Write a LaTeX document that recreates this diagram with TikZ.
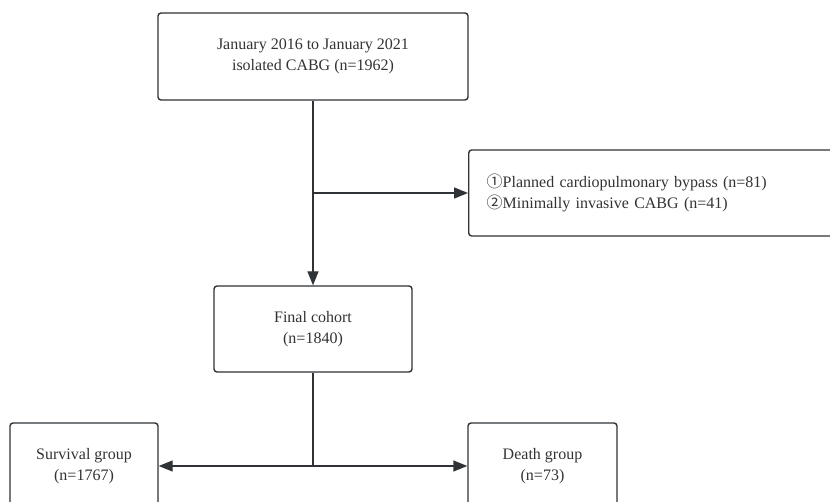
\documentclass[tikz,border=0pt]{standalone}
\usepackage{fontspec}
\setmainfont{Liberation Serif}
\newfontfamily\circfont{Noto Sans CJK SC}
\usetikzlibrary{arrows.meta,calc}
\definecolor{linegray}{HTML}{2F3337}
\definecolor{textgray}{HTML}{333333}
\tikzset{
  flowbox/.style={draw=linegray, line width=1.4pt, rounded corners=3pt, fill=white,
    text=textgray, align=center, inner sep=0pt,
    font=\fontsize{16}{21}\selectfont},
  flowarrow/.style={draw=linegray, line width=1.4pt, -{Triangle[length=14pt,width=11pt]}},
  flowline/.style={draw=linegray, line width=1.4pt}
}
\begin{document}
\begin{tikzpicture}[x=1pt,y=-1pt]
\useasboundingbox (0,0) rectangle (830,502);
\clip (0,0) rectangle (830,502);
\node[flowbox, minimum width=310pt, minimum height=87pt] (top) at (313,56.5)
  {January 2016 to January 2021\\isolated CABG (n=1962)};
\node[flowbox, anchor=west, text width=396pt, align=left, inner xsep=18pt, minimum height=86pt] (excl) at (468,193)
  {{\circfont ①}Planned cardiopulmonary bypass (n=81)\\{\circfont ②}Minimally invasive CABG (n=41)};
\node[flowbox, minimum width=198pt, minimum height=86pt] (mid) at (313,329)
  {Final cohort\\(n=1840)};
\node[flowbox, minimum width=148pt, minimum height=86pt] (surv) at (84,466)
  {Survival group\\(n=1767)};
\node[flowbox, minimum width=149pt, minimum height=86pt] (death) at (542.5,466)
  {Death group\\(n=73)};
\coordinate (j1) at (top.south |- excl.west);
\coordinate (j2) at (mid.south |- surv.east);
\draw[flowarrow] (top.south) -- (mid.north);
\draw[flowarrow] (j1) -- (excl.west);
\draw[flowline] (mid.south) -- (j2);
\draw[flowarrow] (j2) -- (surv.east);
\draw[flowarrow] (j2) -- (death.west);
\end{tikzpicture}
\end{document}
